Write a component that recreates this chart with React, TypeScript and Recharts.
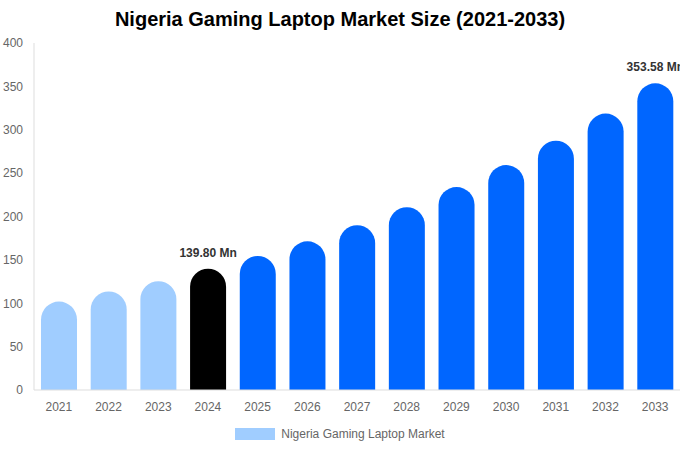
import React from "react";
import { BarChart, Bar, XAxis, YAxis, Cell, LabelList, Legend } from "recharts";

const years = ["2021", "2022", "2023", "2024", "2025", "2026", "2027", "2028", "2029", "2030", "2031", "2032", "2033"];
const marketSize = [102.0, 113.6, 125.5, 139.8, 154.5, 171.4, 190.0, 210.8, 234.0, 259.3, 287.4, 318.6, 353.58];
const yTicks = [0, 50, 100, 150, 200, 250, 300, 350, 400];
const labelledYears = ["2024", "2033"];

const colorFor = (year: string) => {
  const y = Number(year);
  if (y < 2024) return "#A0CDFF";
  if (y === 2024) return "#000000";
  return "#0066FF";
};

const data = years.map((year, i) => ({ year, value: marketSize[i] }));

const font = "Arial, 'Liberation Sans', sans-serif";

function renderLegend() {
  return (
    <div
      style={{
        display: "flex",
        justifyContent: "center",
        alignItems: "center",
        paddingTop: 5,
        fontFamily: font,
        fontSize: 12,
        color: "#666",
      }}
    >
      <span style={{ display: "inline-block", width: 40, height: 12, background: "#A0CDFF", marginRight: 6 }} />
      Nigeria Gaming Laptop Market
    </div>
  );
}

export default function App() {
  return (
    <div style={{ position: "fixed", left: 0, top: 0, width: 680, height: 450, background: "#fff", fontFamily: font }}>
      <div
        style={{
          position: "absolute",
          top: 8,
          left: 0,
          width: 680,
          textAlign: "center",
          fontSize: 20,
          fontWeight: "bold",
          color: "#000",
        }}
      >
        Nigeria Gaming Laptop Market Size (2021-2033)
      </div>
      <BarChart
        width={680}
        height={450}
        data={data}
        margin={{ top: 43, right: 0, left: 0, bottom: 0 }}
        barSize={36}
      >
        <XAxis
          dataKey="year"
          tickLine={false}
          axisLine={{ stroke: "#ddd" }}
          tick={{ fill: "#666", fontSize: 12, fontFamily: font }}
          tickMargin={6}
          interval={0}
          height={32}
        />
        <YAxis
          domain={[0, 400]}
          ticks={yTicks}
          width={34}
          tickLine={false}
          axisLine={{ stroke: "#ddd" }}
          tick={{ fill: "#666", fontSize: 12, fontFamily: font }}
          tickMargin={5}
        />
        <Legend content={renderLegend} verticalAlign="bottom" height={28} />
        <Bar dataKey="value" radius={[18, 18, 0, 0]} isAnimationActive={false}>
          {data.map((d) => (
            <Cell key={d.year} fill={colorFor(d.year)} />
          ))}
          <LabelList
            dataKey="value"
            position="top"
            content={(props: any) => {
              const { x, y, width, index } = props;
              const d = data[index];
              if (!d || !labelledYears.includes(d.year)) return null;
              return (
                <text
                  x={x + width / 2}
                  y={y - 12}
                  textAnchor="middle"
                  fontSize={12}
                  fontWeight="bold"
                  fill="#333"
                  fontFamily={font}
                >
                  {d.value.toFixed(2)} Mn
                </text>
              );
            }}
          />
        </Bar>
      </BarChart>
    </div>
  );
}
